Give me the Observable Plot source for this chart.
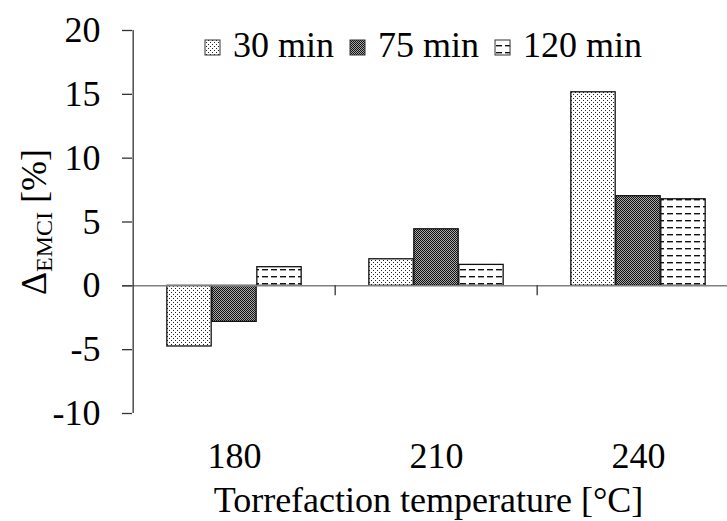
<!DOCTYPE html>
<html>
<head>
<meta charset="utf-8">
<script src="https://cdn.jsdelivr.net/npm/d3@7"></script>
<script src="https://cdn.jsdelivr.net/npm/@observablehq/plot@0.6"></script>
<style>
  html, body { margin: 0; padding: 0; background: #fff; overflow: hidden; }
  #chart svg { max-width: none !important; }
  #chart svg, #chart svg text, #chart svg tspan { font-family: "Liberation Serif", "Times New Roman", serif !important; }
</style>
</head>
<body>
<svg width="0" height="0" style="position:absolute">
  <defs>
    <pattern id="pat0" width="4" height="4" patternUnits="userSpaceOnUse">
      <rect width="4" height="4" fill="#fff"/>
      <rect x="0" y="0" width="1" height="1" fill="#222"/>
      <rect x="2" y="2" width="1" height="1" fill="#222"/>
    </pattern>
    <pattern id="pat1" width="2" height="2" patternUnits="userSpaceOnUse">
      <rect width="2" height="2" fill="#a8a8a8"/>
      <rect x="0" y="0" width="1" height="1" fill="#111"/>
      <rect x="1" y="1" width="1" height="1" fill="#111"/>
    </pattern>
    <pattern id="pat2" width="9" height="7" patternUnits="userSpaceOnUse">
      <rect width="9" height="7" fill="#fff"/>
      <rect x="1" y="3" width="6" height="1.4" fill="#111"/>
    </pattern>
  </defs>
</svg>
<div id="chart"></div>
<script>
// ---- data ----
const temps = ["180", "210", "240"];
const durations = ["30 min", "75 min", "120 min"];
const v30 = [-4.75, 2.08, 15.16];
const v75 = [-2.82, 4.43, 7.02];
const v120 = [1.46, 1.64, 6.78];
const yTicks = [-10, -5, 0, 5, 10, 15, 20];
const xTitle = "Torrefaction temperature [°C]";
const yTitleMain = "Δ";
const yTitleSub = "EMCI";
const yTitleUnit = " [%]";

// ---- layout ----
const W = 740, H = 521;
const mL = 132, mR = 0, mT = 30, mB = 108;
const step = (W - mL - mR) / temps.length;
const barW = 45;
const inset = (step - barW) / 2;
const series = [v30, v75, v120];
const font = "Liberation Serif";

const barMarks = series.map((vals, k) =>
  Plot.barY(temps, {
    x: d => d,
    y1: () => 0,
    y2: (d, i) => vals[i],
    fill: `url(#pat${k})`,
    stroke: "#111",
    strokeWidth: 1.3,
    insetLeft: inset,
    insetRight: inset,
    dx: (k - 1) * barW
  })
);

const chart = Plot.plot({
  width: W,
  height: H,
  marginLeft: mL,
  marginRight: mR,
  marginTop: mT,
  marginBottom: mB,
  style: { background: "#fff", color: "#000" },
  x: { type: "band", domain: temps, padding: 0 },
  y: { domain: [yTicks[0], yTicks[yTicks.length - 1]] },
  marks: [
    ...barMarks,
    Plot.ruleY([0], { stroke: "#808080", strokeWidth: 1.5, insetLeft: -10 }),
    Plot.ruleX(temps.slice(1), { x: d => d, dx: -step / 2, y1: () => 0, y2: () => 0, insetBottom: -10, stroke: "#333", strokeWidth: 1.3 }),
    Plot.ruleX([temps[0]], { x: d => d, dx: -step / 2, y1: () => yTicks[0], y2: () => yTicks[yTicks.length - 1], stroke: "#333", strokeWidth: 1.3 }),
    Plot.axisY({ ticks: yTicks, tickSize: 10, tickPadding: 22, fontSize: 36, fontFamily: font, tickFormat: d => String(d), label: null, stroke: "#333", strokeWidth: 1.3 }),
    Plot.axisX({ tickSize: 0, tickPadding: 29, fontSize: 36, fontFamily: font, label: null }),
    Plot.text([xTitle], { text: d => d, frameAnchor: "bottom", dy: 98, dx: -8, fontSize: 36, fontFamily: font, fill: "#000" })
  ]
});

document.getElementById("chart").appendChild(chart);

// ---- y title with subscript ----
const svg = d3.select(chart);
const yt = svg.append("text")
  .attr("transform", "translate(46,222) rotate(-90)")
  .attr("text-anchor", "middle")
  .attr("font-size", 36)
  .attr("fill", "#000");
yt.append("tspan").text(yTitleMain);
yt.append("tspan").attr("font-size", 24).attr("dy", 6).text(yTitleSub);
yt.append("tspan").attr("dy", -6).text(yTitleUnit);

// ---- legend ----
const lg = svg.append("g").attr("font-size", 36).attr("fill", "#000").attr("text-anchor", "start");
let lx = 205;
durations.forEach((name, k) => {
  lg.append("rect").attr("x", lx).attr("y", 40).attr("width", 15).attr("height", 15)
    .attr("fill", `url(#pat${k})`).attr("stroke", "#333").attr("stroke-width", 1);
  const t = lg.append("text").attr("x", lx + 28).attr("y", 57).attr("text-anchor", "start").text(name);
  const w = t.node().getComputedTextLength();
  lx = lx + 28 + w + 16;
});
</script>
</body>
</html>
